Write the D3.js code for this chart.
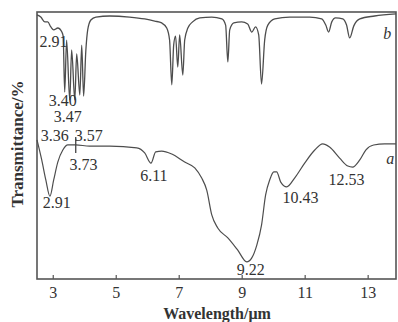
<!DOCTYPE html>
<html>
<head>
<script src="https://d3js.org/d3.v7.min.js"></script>
<style>
body { margin: 0; background: #fff; }
text { font-family: "Liberation Serif", "Times New Roman", serif; fill: #333; }
</style>
</head>
<body>
<script>
// curve a (lower spectrum): wavelength (um) and transmittance (%)
var waveA  = [2.5, 2.65, 2.78, 2.91, 3.03, 3.16, 3.32, 3.48, 3.73, 4.17, 4.81, 5.67, 5.92, 6.12, 6.27, 6.46, 6.78, 7.19, 7.51, 7.73, 7.89, 8.05, 8.24, 8.56, 8.87, 9.16, 9.32, 9.48, 9.63, 9.76, 9.89, 10.02, 10.11, 10.24, 10.43, 10.68, 11.0, 11.32, 11.57, 11.79, 12.11, 12.37, 12.52, 12.75, 12.94, 13.19, 13.54, 13.9];
var transA = [52.1, 44.6, 37.1, 31.0, 37.1, 43.8, 48.3, 50.2, 50.2, 49.8, 49.8, 49.1, 47.2, 43.4, 47.6, 47.9, 46.8, 43.8, 41.6, 37.8, 33.3, 24.0, 19.1, 15.4, 10.9, 6.4, 7.9, 12.7, 20.2, 31.5, 37.1, 40.1, 40.1, 36.3, 34.5, 37.8, 43.4, 48.3, 50.6, 49.4, 45.3, 42.3, 41.9, 44.6, 48.3, 50.2, 50.6, 50.6];

// curve b (upper spectrum)
var waveB  = [2.5, 2.62, 2.75, 2.84, 2.94, 3.03, 3.16, 3.29, 3.33, 3.38, 3.44, 3.54, 3.6, 3.7, 3.76, 3.86, 3.92, 3.98, 4.05, 4.11, 4.21, 4.37, 4.81, 5.44, 5.92, 6.24, 6.46, 6.62, 6.71, 6.78, 6.84, 6.9, 6.97, 7.03, 7.13, 7.19, 7.29, 7.44, 7.67, 8.05, 8.37, 8.49, 8.56, 8.62, 8.75, 9.0, 9.19, 9.32, 9.44, 9.54, 9.63, 9.73, 9.83, 10.05, 10.52, 11.16, 11.54, 11.67, 11.76, 11.86, 11.98, 12.21, 12.33, 12.43, 12.56, 12.75, 13.22, 13.9];
var transB = [98.9, 98.1, 96.3, 96.3, 94.4, 93.3, 94.0, 92.5, 91.0, 70.0, 89.5, 67.0, 85.8, 67.0, 84.3, 68.9, 87.6, 68.5, 85.4, 93.3, 97.0, 98.1, 98.5, 98.1, 97.4, 96.6, 95.9, 94.0, 89.5, 72.7, 87.6, 91.0, 79.4, 91.4, 76.4, 89.5, 94.0, 96.3, 97.8, 98.1, 97.4, 95.1, 81.3, 93.3, 95.9, 96.3, 95.5, 92.5, 94.4, 91.4, 73.0, 89.5, 95.1, 97.4, 98.1, 98.1, 97.4, 95.1, 92.5, 96.3, 97.8, 97.4, 95.1, 90.3, 94.8, 97.4, 98.5, 99.3];

var xTicks = [3, 5, 7, 9, 11, 13];

// peak labels: text, wavelength and transmittance where the label sits
var peakText  = ["2.91", "3.40", "3.47", "3.36", "3.57", "3.73", "2.91", "6.11", "9.22", "10.43", "12.53"];
var peakWave  = [3.02, 3.32, 3.48, 3.06, 4.14, 3.98, 3.13, 6.21, 9.29, 10.87, 12.33];
var peakTrans = [88.8, 67.0, 61.0, 53.9, 53.9, 42.7, 28.5, 38.6, 3.4, 30.7, 37.1];

var width = 398, height = 322;
var margin = {top: 12, right: 2, bottom: 43, left: 37};

var svg = d3.select("body").append("svg")
	.attr("width", width)
	.attr("height", height);

var x = d3.scaleLinear().domain([2.5, 13.9]).range([margin.left, width - margin.right]);
var y = d3.scaleLinear().domain([0, 100]).range([height - margin.bottom, margin.top]);

// frame
svg.append("rect")
	.attr("x", x(2.5)).attr("y", y(100))
	.attr("width", x(13.9) - x(2.5)).attr("height", y(0) - y(100))
	.attr("fill", "none").attr("stroke", "#555").attr("stroke-width", 1.6);

// bottom axis, ticks pointing in
var xAxis = d3.axisBottom(x).tickValues(xTicks).tickSizeInner(-4).tickSizeOuter(0).tickPadding(8);
var gx = svg.append("g").attr("transform", "translate(0," + y(0) + ")").call(xAxis);
gx.attr("font-family", null);
gx.select(".domain").remove();
gx.selectAll("line").attr("stroke", "#555").attr("stroke-width", 1.2);
gx.selectAll("text").attr("font-size", 16).attr("fill", "#333");

var line = d3.line()
	.x(function(d){ return x(d[0]); })
	.y(function(d){ return y(d[1]); })
	.curve(d3.curveMonotoneX);

svg.append("path")
	.datum(d3.zip(waveA, transA))
	.attr("d", line)
	.attr("fill", "none").attr("stroke", "#4d4d4d").attr("stroke-width", 1.2);

svg.append("path")
	.datum(d3.zip(waveB, transB))
	.attr("d", line)
	.attr("fill", "none").attr("stroke", "#4d4d4d").attr("stroke-width", 1.3);

// marker at 3.73 on curve a
svg.append("line")
	.attr("x1", x(3.73)).attr("x2", x(3.73))
	.attr("y1", y(53.2)).attr("y2", y(47.2))
	.attr("stroke", "#444").attr("stroke-width", 1.3);

svg.selectAll("text.peak")
	.data(d3.range(peakText.length))
	.enter().append("text")
	.attr("class", "peak")
	.attr("x", function(i){ return x(peakWave[i]); })
	.attr("y", function(i){ return y(peakTrans[i]); })
	.attr("text-anchor", "middle")
	.attr("dominant-baseline", "central")
	.attr("font-size", 16)
	.text(function(i){ return peakText[i]; });

// curve names
svg.append("text").attr("x", x(13.62)).attr("y", y(92.1))
	.attr("text-anchor", "middle").attr("dominant-baseline", "central")
	.attr("font-size", 16).attr("font-style", "italic").text("b");
svg.append("text").attr("x", x(13.72)).attr("y", y(45.3))
	.attr("text-anchor", "middle").attr("dominant-baseline", "central")
	.attr("font-size", 16).attr("font-style", "italic").text("a");

// axis titles
svg.append("text")
	.attr("x", 217).attr("y", 318.5)
	.attr("text-anchor", "middle")
	.attr("font-size", 16).attr("font-weight", "bold")
	.text("Wavelength/\u03bcm");

svg.append("text")
	.attr("transform", "translate(17,144) rotate(-90)")
	.attr("text-anchor", "middle").attr("dominant-baseline", "central")
	.attr("font-size", 17).attr("font-weight", "bold")
	.text("Transmittance/%");
</script>
</body>
</html>
